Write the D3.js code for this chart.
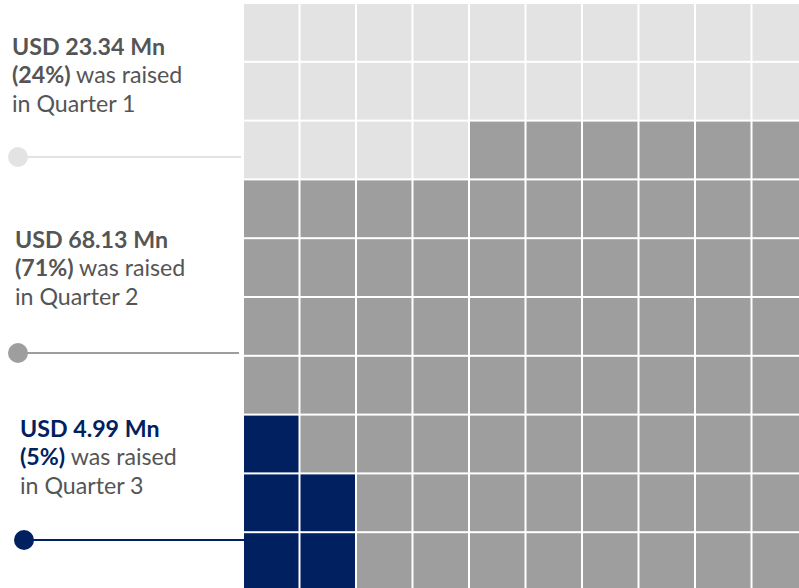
<!DOCTYPE html>
<html>
<head>
<meta charset="utf-8">
<script src="https://cdn.jsdelivr.net/npm/d3@7"></script>
<style>
  body { margin: 0; background: #fff; }
  svg { display: block; font-family: Lato, 'Open Sans', sans-serif; }
</style>
</head>
<body>
<div id="chart"></div>
<script>
const quarters = ['Quarter 1', 'Quarter 2', 'Quarter 3']
const amounts = [23.34, 68.13, 4.99]
const shares = [24, 71, 5]
const fills = ['#e3e3e3', '#9e9e9e', '#002060']
const labelColors = ['#555555', '#555555', '#002060']

const width = 799
const height = 588
const GRID = 10

// annotation placement (left column)
const labelLayout = [
  { x: 12, y: 55, dotX: 18, dotY: 157, lineEnd: 241 },
  { x: 15, y: 248, dotX: 18, dotY: 353, lineEnd: 239 },
  { x: 20, y: 437, dotX: 24, dotY: 540, lineEnd: 246 }
]

const svg = d3.select('#chart').append('svg')
  .attr('width', width)
  .attr('height', height)

const xScale = d3.scaleBand()
  .domain(d3.range(GRID))
  .range([244, 244 + 56.3 * GRID])
  .paddingInner(2 / 56.3)
  .paddingOuter(0)
const yScale = d3.scaleBand()
  .domain(d3.range(GRID))
  .range([4, 4 + 58.6 * GRID])
  .paddingInner(2 / 58.6)
  .paddingOuter(0)

// build cells: Q1 fills from top-left row by row, Q3 from bottom-left corner, Q2 the rest
const cells = d3.range(GRID * GRID).map(i => ({ row: Math.floor(i / GRID), col: i % GRID, q: 1 }))
cells.slice(0, shares[0]).forEach(c => { c.q = 0 })
const rest = cells.filter(c => c.q === 1)
  .sort((a, b) => {
    const da = (GRID - 1 - a.row) ** 2 + a.col ** 2
    const db = (GRID - 1 - b.row) ** 2 + b.col ** 2
    return da - db || a.col - b.col
  })
rest.slice(0, shares[2]).forEach(c => { c.q = 2 })

svg.append('g')
  .selectAll('rect')
  .data(cells)
  .join('rect')
  .attr('x', d => xScale(d.col))
  .attr('y', d => yScale(d.row))
  .attr('width', xScale.bandwidth())
  .attr('height', yScale.bandwidth())
  .attr('fill', d => fills[d.q])

const labels = svg.append('g')
  .selectAll('g')
  .data(quarters)
  .join('g')

labels.append('line')
  .attr('x1', (d, i) => labelLayout[i].dotX)
  .attr('x2', (d, i) => labelLayout[i].lineEnd)
  .attr('y1', (d, i) => labelLayout[i].dotY)
  .attr('y2', (d, i) => labelLayout[i].dotY)
  .attr('stroke', (d, i) => fills[i])
  .attr('stroke-width', 2)

labels.append('circle')
  .attr('cx', (d, i) => labelLayout[i].dotX)
  .attr('cy', (d, i) => labelLayout[i].dotY)
  .attr('r', 10)
  .attr('fill', (d, i) => fills[i])

const text = labels.append('text')
  .attr('x', (d, i) => labelLayout[i].x)
  .attr('y', (d, i) => labelLayout[i].y)
  .attr('font-size', 23.2)
  .attr('fill', '#555555')

text.append('tspan')
  .attr('font-weight', 700)
  .attr('fill', (d, i) => labelColors[i])
  .text((d, i) => `USD ${amounts[i]} Mn`)

const line2 = text.append('tspan')
  .attr('x', (d, i) => labelLayout[i].x)
  .attr('dy', 28.4)
line2.append('tspan')
  .attr('font-weight', 700)
  .attr('fill', (d, i) => labelColors[i])
  .text((d, i) => `(${shares[i]}%)`)
line2.append('tspan')
  .text(' was raised')

text.append('tspan')
  .attr('x', (d, i) => labelLayout[i].x)
  .attr('dy', 28.4)
  .text(d => `in ${d}`)
</script>
</body>
</html>
